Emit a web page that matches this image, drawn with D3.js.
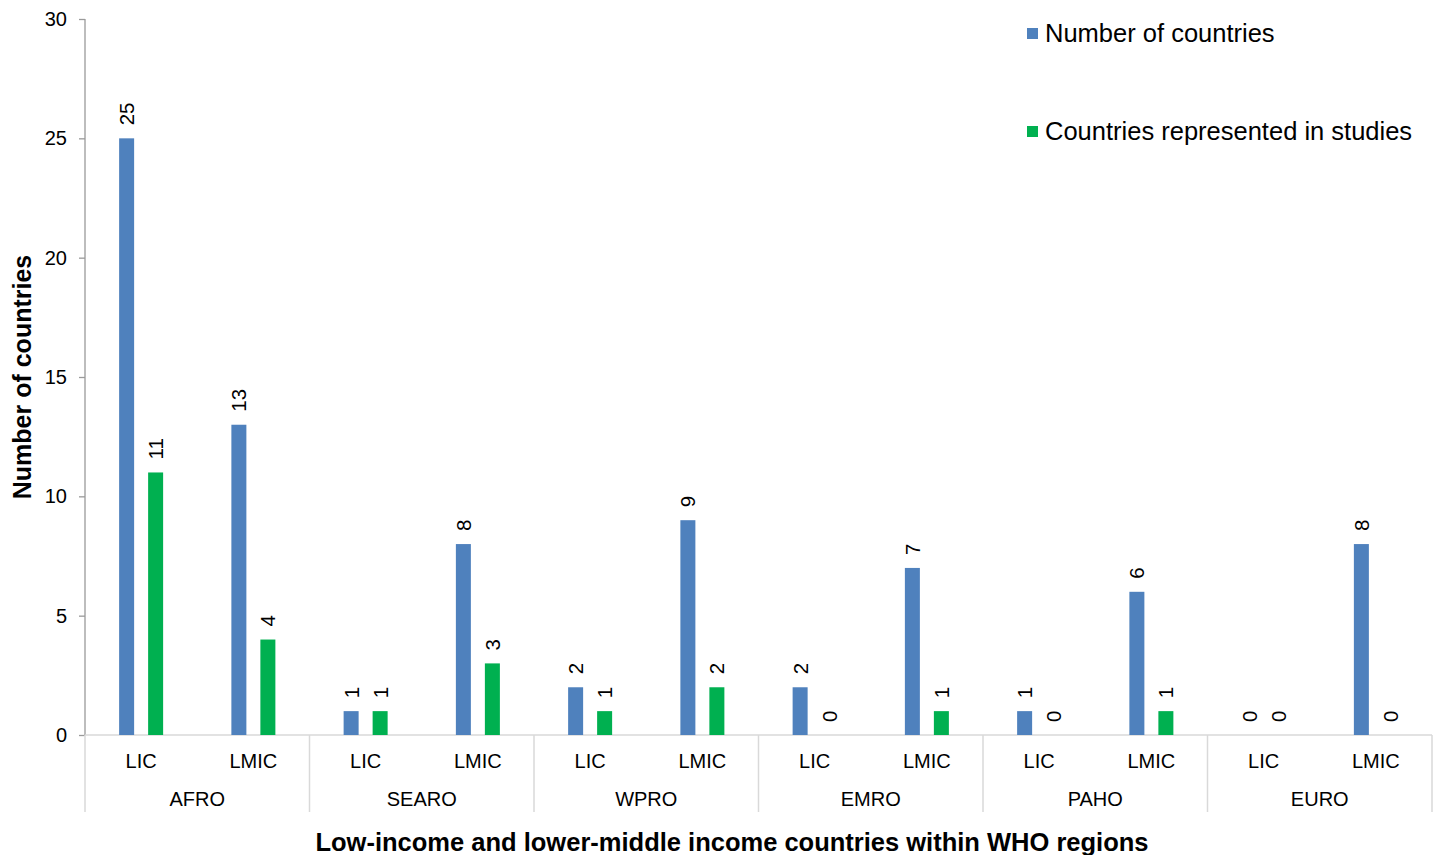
<!DOCTYPE html>
<html lang="en">
<head>
<meta charset="UTF-8">
<title>LIC / LMIC countries by WHO region</title>
<script src="https://d3js.org/d3.v7.min.js"></script>
<style>
    body { margin: 0; background: #fff; }
    text { font-family: "Liberation Sans", Arial, sans-serif; fill: #000; }
    .tick text { font-size: 20px; }
    .vlabel { font-size: 20.5px; }
</style>
</head>
<body>
<svg width="1434" height="855"></svg>
<script>
    var regions = ["AFRO", "SEARO", "WPRO", "EMRO", "PAHO", "EURO"];
    var incomes = ["LIC", "LMIC"];
    var seriesNames = ["Number of countries", "Countries represented in studies"];
    var colors = ["#4f81bd", "#00b050"];
    // values in order AFRO LIC, AFRO LMIC, SEARO LIC, ...
    var numberOfCountries = [25, 13, 1, 8, 2, 9, 2, 7, 1, 6, 0, 8];
    var representedInStudies = [11, 4, 1, 3, 1, 2, 0, 1, 0, 1, 0, 0];
    var yTicks = [0, 5, 10, 15, 20, 25, 30];

    var svg = d3.select("svg");
    var plotLeft = 85, plotRight = 1432, plotTop = 19, plotBottom = 735;

    var cats = [];
    regions.forEach(function(r) {
        incomes.forEach(function(inc) { cats.push(r + "|" + inc); });
    });

    var x = d3.scaleBand().domain(cats).range([plotLeft, plotRight]);
    var y = d3.scaleLinear().domain([0, 30]).range([plotBottom, plotTop]);
    var bw = 15, off = 14.5;

    // y axis
    var yAxis = svg.append("g")
        .attr("transform", "translate(" + plotLeft + ",0)")
        .call(d3.axisLeft(y).tickValues(yTicks).tickSize(6).tickPadding(12));
    yAxis.selectAll("path, line").attr("stroke", "#9a9a9a").attr("stroke-width", 1.3);
    yAxis.select(".domain").attr("d", "M0," + plotTop + "V" + plotBottom);

    // x axis line and separators
    svg.append("line")
        .attr("x1", plotLeft).attr("x2", plotRight).attr("y1", plotBottom).attr("y2", plotBottom)
        .attr("stroke", "#d9d9d9").attr("stroke-width", 1.5);
    var seps = regions.map(function(r) { return x(r + "|LIC"); }).concat([plotRight]);
    svg.selectAll(".sep").data(seps).enter().append("line")
        .attr("x1", function(d) { return d; }).attr("x2", function(d) { return d; })
        .attr("y1", plotBottom).attr("y2", 812)
        .attr("stroke", "#d9d9d9").attr("stroke-width", 1.5);

    svg.selectAll(".cat").data(cats).enter().append("text")
        .attr("x", function(d) { return x(d) + x.bandwidth() / 2; })
        .attr("y", 768)
        .attr("text-anchor", "middle")
        .style("font-size", "20px")
        .text(function(d) { return d.split("|")[1]; });

    svg.selectAll(".reg").data(regions).enter().append("text")
        .attr("x", function(d) { return x(d + "|LIC") + x.bandwidth(); })
        .attr("y", 806)
        .attr("text-anchor", "middle")
        .style("font-size", "20px")
        .text(function(d) { return d; });

    // bars
    var series = [numberOfCountries, representedInStudies];
    series.forEach(function(vals, si) {
        var g = svg.append("g");
        var dx = si === 0 ? -off : off;
        g.selectAll("rect").data(vals).enter().append("rect")
            .attr("x", function(d, i) { return x(cats[i]) + x.bandwidth() / 2 + dx - bw / 2; })
            .attr("y", function(d) { return y(d); })
            .attr("width", bw)
            .attr("height", function(d) { return plotBottom - y(d); })
            .attr("fill", colors[si]);
        g.selectAll("text").data(vals).enter().append("text")
            .attr("class", "vlabel")
            .attr("transform", function(d, i) {
                var cx = x(cats[i]) + x.bandwidth() / 2 + dx;
                return "translate(" + (cx + 7.5) + "," + (y(d) - 13) + ") rotate(-90)";
            })
            .text(function(d) { return d; });
    });

    // legend
    var legend = svg.append("g");
    seriesNames.forEach(function(name, i) {
        var ly = 33 + i * 98;
        legend.append("rect").attr("x", 1027).attr("y", ly - 5).attr("width", 11).attr("height", 11)
            .attr("fill", colors[i]);
        legend.append("text").attr("x", 1045).attr("y", ly + 9)
            .style("font-size", "25.5px").text(name);
    });

    // axis titles
    svg.append("text")
        .attr("transform", "translate(31," + ((plotTop + plotBottom) / 2) + ") rotate(-90)")
        .attr("text-anchor", "middle")
        .style("font-size", "25px").style("font-weight", "bold")
        .text("Number of countries");
    svg.append("text")
        .attr("x", 732).attr("y", 851)
        .attr("text-anchor", "middle")
        .style("font-size", "25.5px").style("font-weight", "bold")
        .text("Low-income and lower-middle income countries within WHO regions");
</script>
</body>
</html>
